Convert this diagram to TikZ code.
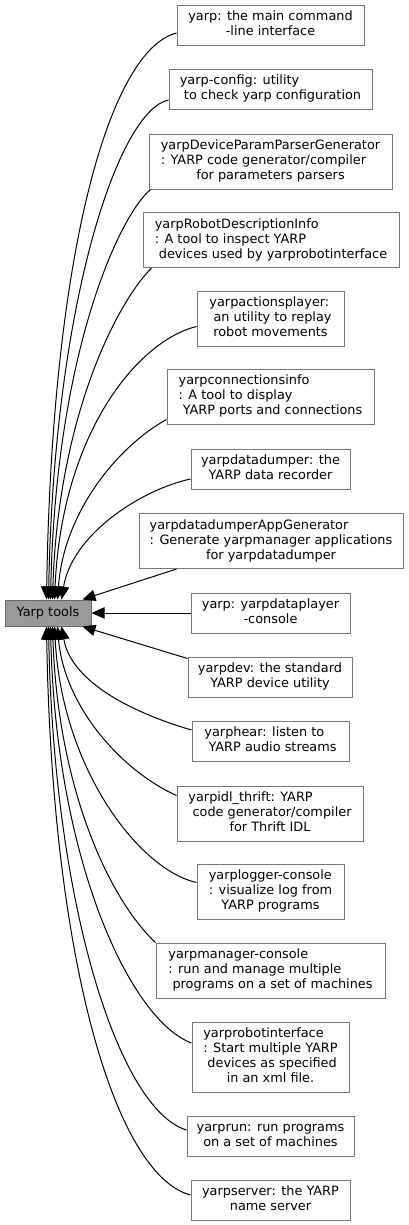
\documentclass[tikz,border=0pt]{standalone}
\usepackage{fontspec}
\setmainfont{DejaVu Sans}
\usetikzlibrary{arrows.meta,calc}
\definecolor{bordergray}{HTML}{777777}
\definecolor{toolsfill}{HTML}{999999}
\definecolor{toolsborder}{HTML}{666666}
\newcommand{\LastLine}[1]{\multicolumn{1}{@{}c@{}}{#1}}
\newcommand{\Lsp}{\hspace*{0.318em}}
\newcommand{\Lbl}[1]{\begin{tabular}{@{}l@{}}#1\end{tabular}}
\begin{document}
\begin{tikzpicture}[x=0.75pt,y=-0.75pt,
  every node/.style={font=\fontsize{9.65}{11.25}\selectfont},
  box/.style={draw=bordergray,fill=white,line width=0.75pt,inner sep=0pt,minimum height=#1*0.75pt},
  bw/.style={minimum width=#1*0.75pt},
  tools/.style={draw=toolsborder,fill=toolsfill,line width=0.75pt,inner sep=0pt,minimum width=86*0.75pt,minimum height=26*0.75pt},
  edge/.style={draw=black,line width=0.75pt,-{Triangle[length=9.75pt,width=8.5pt]}}
]
\useasboundingbox (0,0) rectangle (408,1225);

\node[tools] (tools) at (48,613) {Yarp tools};

\node[box=40,bw=187] (ymain) at (270.5,25) {\Lbl{yarp: the main command\\ \LastLine{-line interface}}};
\node[box=40,bw=203] (ycfg) at (270.5,89) {\Lbl{yarp-config: utility\\ \LastLine{\Lsp to check yarp configuration}}};
\node[box=55,bw=243] (ydev) at (270.5,161.5) {\Lbl{yarpDeviceParamParserGenerator\\ : YARP code generator/compiler\\ \LastLine{for parameters parsers}}};
\node[box=55,bw=256] (yrdi) at (271,240) {\Lbl{yarpRobotDescriptionInfo\\ : A tool to inspect YARP\\ \LastLine{\Lsp devices used by yarprobotinterface}}};
\node[box=55,bw=147] (yact) at (270.5,318.5) {\Lbl{yarpactionsplayer:\\ \Lsp an utility to replay\\ \LastLine{robot movements}}};
\node[box=55,bw=207] (yconn) at (270.5,396.5) {\Lbl{yarpconnectionsinfo\\ : A tool to display\\ \LastLine{\Lsp YARP ports and connections}}};
\node[box=40,bw=159] (ydd) at (270.5,469) {\Lbl{yarpdatadumper: the\\ \LastLine{YARP data recorder}}};
\node[box=55,bw=264] (ydag) at (271,541) {\Lbl{yarpdatadumperAppGenerator\\ : Generate yarpmanager applications\\ \LastLine{for yarpdatadumper}}};
\node[box=40,bw=159] (ydp) at (270.5,613) {\Lbl{yarp: yarpdataplayer\\ \LastLine{-console}}};
\node[box=40,bw=164] (ydv) at (270,677) {\Lbl{yarpdev: the standard\\ \LastLine{YARP device utility}}};
\node[box=40,bw=157] (yhear) at (270.5,741) {\Lbl{yarphear: listen to\\ \LastLine{\Lsp YARP audio streams}}};
\node[box=55,bw=186] (yidl) at (270,813.5) {\Lbl{yarpidl\_thrift: YARP\\ \Lsp code generator/compiler\\ \LastLine{for Thrift IDL}}};
\node[box=55,bw=147] (ylog) at (270.5,891.5) {\Lbl{yarplogger-console\\ : visualize log from\\ \LastLine{YARP programs}}};
\node[box=55,bw=229] (ymgr) at (270.5,970.5) {\Lbl{yarpmanager-console\\ : run and manage multiple\\ \LastLine{\Lsp programs on a set of machines}}};
\node[box=70,bw=157] (yrbi) at (270.5,1057) {\Lbl{yarprobotinterface\\ : Start multiple YARP\\ \Lsp devices as specified\\ \LastLine{in an xml file.}}};
\node[box=40,bw=167] (yrun) at (270.5,1136) {\Lbl{yarprun: run programs\\ \LastLine{on a set of machines}}};
\node[box=40,bw=159] (ysrv) at (270.5,1200) {\Lbl{yarpserver: the YARP\\ \LastLine{name server}}};

% upper edges
\draw[edge] ($(ymain.west)+(0,8)$) .. controls (110,50) and (52,250) .. ($(tools.north west)+(42,0)$);
\draw[edge] ($(ycfg.west)+(0,11)$) .. controls (119,110) and (54,300) .. ($(tools.north west)+(44,0)$);
\draw[edge] ($(ydev.south west)+(2,0)$) .. controls (120,215) and (56,350) .. ($(tools.north west)+(46,0)$);
\draw[edge] ($(yrdi.south west)+(9,0)$) .. controls (115,305) and (58,420) .. ($(tools.north west)+(48,0)$);
\draw[edge] ($(yact.west)+(0,8)$) .. controls (140,340) and (62,430) .. ($(tools.north west)+(50,0)$);
\draw[edge] ($(yconn.west)+(0,23)$) .. controls (120,445) and (64,510) .. ($(tools.north west)+(53,0)$);
\draw[edge] ($(ydd.west)+(0,10)$) .. controls (140,490) and (72,535) .. ($(tools.north west)+(57,0)$);
\draw[edge] ($(ydag.south west)+(38,0)$) -- ($(tools.north west)+(78,0)$);
% middle
\draw[edge] (ydp.west) -- (tools.east);
% lower edges
\draw[edge] ($(ydv.north west)+(0,2)$) -- ($(tools.south west)+(78,0)$);
\draw[edge] ($(yhear.west)+(0,-11)$) .. controls (140,715) and (72,685) .. ($(tools.south west)+(57,0)$);
\draw[edge] ($(yidl.west)+(0,-18)$) .. controls (120,770) and (64,705) .. ($(tools.south west)+(53,0)$);
\draw[edge] ($(ylog.west)+(0,-9)$) .. controls (140,870) and (62,770) .. ($(tools.south west)+(50,0)$);
\draw[edge] (ymgr.north west) .. controls (110,900) and (58,790) .. ($(tools.south west)+(48,0)$);
\draw[edge] ($(yrbi.west)+(0,-14)$) .. controls (130,1020) and (56,860) .. ($(tools.south west)+(46,0)$);
\draw[edge] ($(yrun.west)+(0,-6)$) .. controls (120,1110) and (54,910) .. ($(tools.south west)+(44,0)$);
\draw[edge] ($(ysrv.west)+(0,-5)$) .. controls (115,1175) and (52,960) .. ($(tools.south west)+(42,0)$);
\end{tikzpicture}
\end{document}
